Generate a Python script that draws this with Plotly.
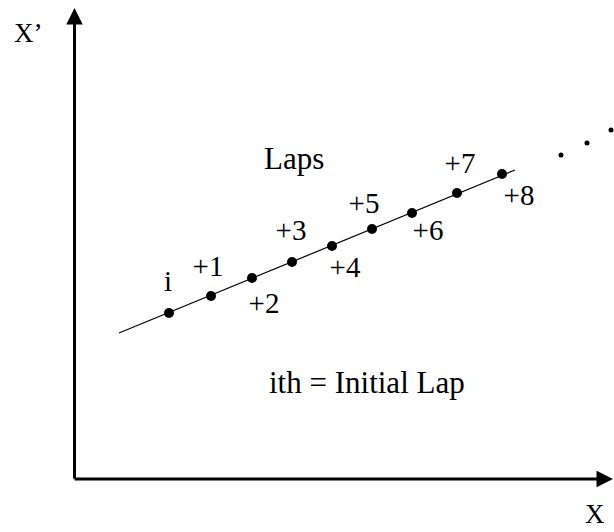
import plotly.graph_objects as go

H = 532
# lap points (x, x') in picture units (y measured upward)
lap_labels = ["i", "+1", "+2", "+3", "+4", "+5", "+6", "+7", "+8"]
lap_x = [169, 211, 252, 292, 332, 372, 412, 457, 502]
lap_y = [H - v for v in [313, 296, 278, 262, 246, 229, 213, 193, 174]]
# fitted line ends
line_x = [119, 515]
line_y = [H - 333, H - 170]
# continuation dots
dots_x = [561, 587, 611]
dots_y = [H - 155, H - 143, H - 130]
# label positions
lab_x = [168, 208, 264, 291, 345, 364, 428, 460, 519]
lab_y = [H - v for v in [284, 269, 306, 233, 270, 206, 233, 166, 198]]

serif = "Liberation Serif, Times New Roman, serif"
lab_font = dict(family=serif, size=29, color="black")
txt_font = dict(family=serif, size=31, color="black")
ax_font = dict(family=serif, size=27, color="black")

fig = go.Figure()
fig.add_trace(go.Scatter(x=line_x, y=line_y, mode="lines",
                         line=dict(color="black", width=1.2), hoverinfo="skip"))
fig.add_trace(go.Scatter(x=lap_x, y=lap_y, mode="markers",
                         marker=dict(color="black", size=10), hoverinfo="skip"))
fig.add_trace(go.Scatter(x=dots_x, y=dots_y, mode="markers", cliponaxis=False,
                         marker=dict(color="black", size=5), hoverinfo="skip"))
fig.add_trace(go.Scatter(x=lab_x, y=lab_y, mode="text", text=lap_labels,
                         textfont=lab_font, hoverinfo="skip"))

ann = []
# axes as arrows
ann.append(dict(x=74.5, y=H - 8, ax=74.5, ay=H - 480, xref="x", yref="y", axref="x", ayref="y",
                showarrow=True, arrowhead=2, arrowsize=1.1, arrowwidth=3, arrowcolor="black", text=""))
ann.append(dict(x=613, y=H - 479, ax=73, ay=H - 479, xref="x", yref="y", axref="x", ayref="y",
                showarrow=True, arrowhead=2, arrowsize=1.1, arrowwidth=3, arrowcolor="black", text=""))
ann.append(dict(x=28, y=H - 33, text="X’", showarrow=False, font=ax_font, xref="x", yref="y"))
ann.append(dict(x=595, y=H - 514, text="X", showarrow=False, font=ax_font, xref="x", yref="y"))
ann.append(dict(x=294, y=H - 158, text="Laps", showarrow=False, font=txt_font, xref="x", yref="y"))
ann.append(dict(x=367, y=H - 382, text="ith = Initial Lap", showarrow=False, font=txt_font, xref="x", yref="y"))

fig.update_layout(
    width=614, height=532,
    margin=dict(l=0, r=0, t=0, b=0),
    paper_bgcolor="white", plot_bgcolor="white",
    showlegend=False,
    xaxis=dict(range=[0, 614], visible=False, fixedrange=True),
    yaxis=dict(range=[0, 532], visible=False, fixedrange=True),
    annotations=ann,
)
fig.write_html(
    "out.html",
    default_width="614px", default_height="532px",
    config={"displayModeBar": False, "staticPlot": True},
    post_script="document.body.style.margin='0';document.body.style.overflow='hidden';",
)
